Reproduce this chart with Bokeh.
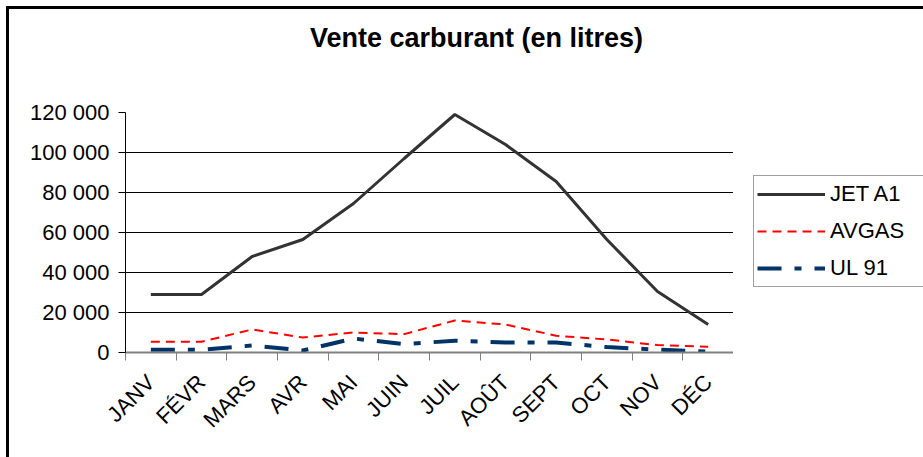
import math
from bokeh.plotting import figure
from bokeh.layouts import column, row
from bokeh.models import (FixedTicker, LinearAxis, CategoricalAxis, Legend,
                          LegendItem, Div, Range1d)
from bokeh.embed import file_html
from bokeh.resources import INLINE

months = ["JANV", "FÉVR", "MARS", "AVR", "MAI", "JUIN", "JUIL", "AOÛT", "SEPT", "OCT", "NOV", "DÉC"]
jet_a1 = [29000, 29000, 48000, 56500, 74500, 97000, 119000, 104000, 85500, 56500, 30500, 14000]
avgas = [5400, 5400, 11500, 7500, 10000, 9200, 16000, 14000, 8400, 6500, 3700, 2900]
ul91 = [1400, 1400, 3500, 1000, 7000, 4200, 5900, 5000, 5000, 2700, 1400, 500]
series_names = ["JET A1", "AVGAS", "UL 91"]
y_ticks = [0, 20000, 40000, 60000, 80000, 100000, 120000]
y_tick_labels = ["0", "20 000", "40 000", "60 000", "80 000", "100 000", "120 000"]
title_text = "Vente carburant (en litres)"

FONT = "Liberation Sans"
styles_line = [dict(line_color="#333333", line_width=3),
               dict(line_color="#FF0000", line_width=2, line_dash="9 6"),
               dict(line_color="#003366", line_width=4, line_dash="24 13 7 13")]

# ---- title (HTML text block above the chart)
title = Div(text=title_text, width=914, height=60, margin=0,
            styles={"font-family": FONT, "font-size": "27px", "font-weight": "bold",
                    "color": "black", "padding-left": "301px", "padding-top": "14px",
                    "line-height": "31px", "box-sizing": "border-box"})

# ---- main chart
p = figure(width=724, height=388, x_range=months, y_range=(y_ticks[0], y_ticks[-1]),
           output_backend="svg", toolbar_location=None, x_axis_location=None,
           y_axis_location=None, min_border_left=116, min_border_right=0,
           min_border_top=43, min_border_bottom=105)
p.outline_line_color = None
p.background_fill_color = "white"
p.border_fill_color = "white"

yax = LinearAxis(ticker=FixedTicker(ticks=y_ticks),
                 major_label_overrides={v: s for v, s in zip(y_ticks, y_tick_labels)})
yax.axis_line_color = "black"
yax.axis_line_width = 1
yax.major_tick_line_color = "black"
yax.major_tick_out = 7
yax.major_tick_in = 0
yax.minor_tick_line_color = None
yax.major_label_standoff = 9
yax.major_label_text_font = FONT
yax.major_label_text_font_size = "22px"
yax.major_label_text_color = "black"
p.add_layout(yax, "left")

p.ygrid.ticker = FixedTicker(ticks=y_ticks[1:-1])
p.ygrid.grid_line_color = "black"
p.ygrid.grid_line_width = 1
p.xgrid.grid_line_color = None

# tick marks at category boundaries (synthetic coordinates of the factor range)
tax = LinearAxis(ticker=FixedTicker(ticks=list(range(len(months) + 1))))
tax.axis_line_color = "#808080"
tax.axis_line_width = 2
tax.major_tick_line_color = "#808080"
tax.major_tick_line_width = 1
tax.major_tick_out = 8
tax.major_tick_in = 0
tax.minor_tick_line_color = None
tax.major_label_text_font_size = "0px"
tax.major_label_standoff = 0
p.add_layout(tax, "below")

xax = CategoricalAxis()
xax.axis_line_color = None
xax.major_tick_line_color = None
xax.major_tick_out = 0
xax.major_label_orientation = math.pi / 4
xax.major_label_standoff = 18
xax.major_label_text_font = FONT
xax.major_label_text_font_size = "22px"
xax.major_label_text_color = "black"
p.add_layout(xax, "below")

for vals, st in zip([jet_a1, avgas, ul91], styles_line):
    p.line(months, vals, **st)

# ---- legend panel (sample glyphs only; a single NaN point so nothing is drawn in the panel)
lg = figure(width=190, height=388, output_backend="svg", toolbar_location=None,
            x_range=Range1d(0, 1), y_range=Range1d(0, 1),
            x_axis_location=None, y_axis_location=None, min_border=0)
lg.outline_line_color = None
lg.grid.visible = False
lg.border_fill_color = "white"
items = []
for name, st in zip(series_names, styles_line):
    r = lg.line(x=[float("nan")], y=[float("nan")], **st)
    items.append(LegendItem(label=name, renderers=[r]))

legend = Legend(items=items, location=(20, 65), orientation="vertical")
legend.border_line_color = "#404040"
legend.border_line_width = 1
legend.background_fill_alpha = 1
legend.padding = 3
legend.spacing = 7
legend.margin = 0
legend.glyph_width = 68
legend.glyph_height = 30
legend.label_standoff = 5
legend.label_width = 100
legend.label_text_font = FONT
legend.label_text_font_size = "22px"
legend.label_text_color = "black"
lg.add_layout(legend, "center")

layout = column(title, row(p, lg, spacing=0), spacing=0)
layout.styles = {"margin-left": "6px", "margin-top": "6px",
                 "border-left": "3px solid #000000", "border-top": "3px solid #000000"}

open("out.html", "w").write(file_html(layout, INLINE))
